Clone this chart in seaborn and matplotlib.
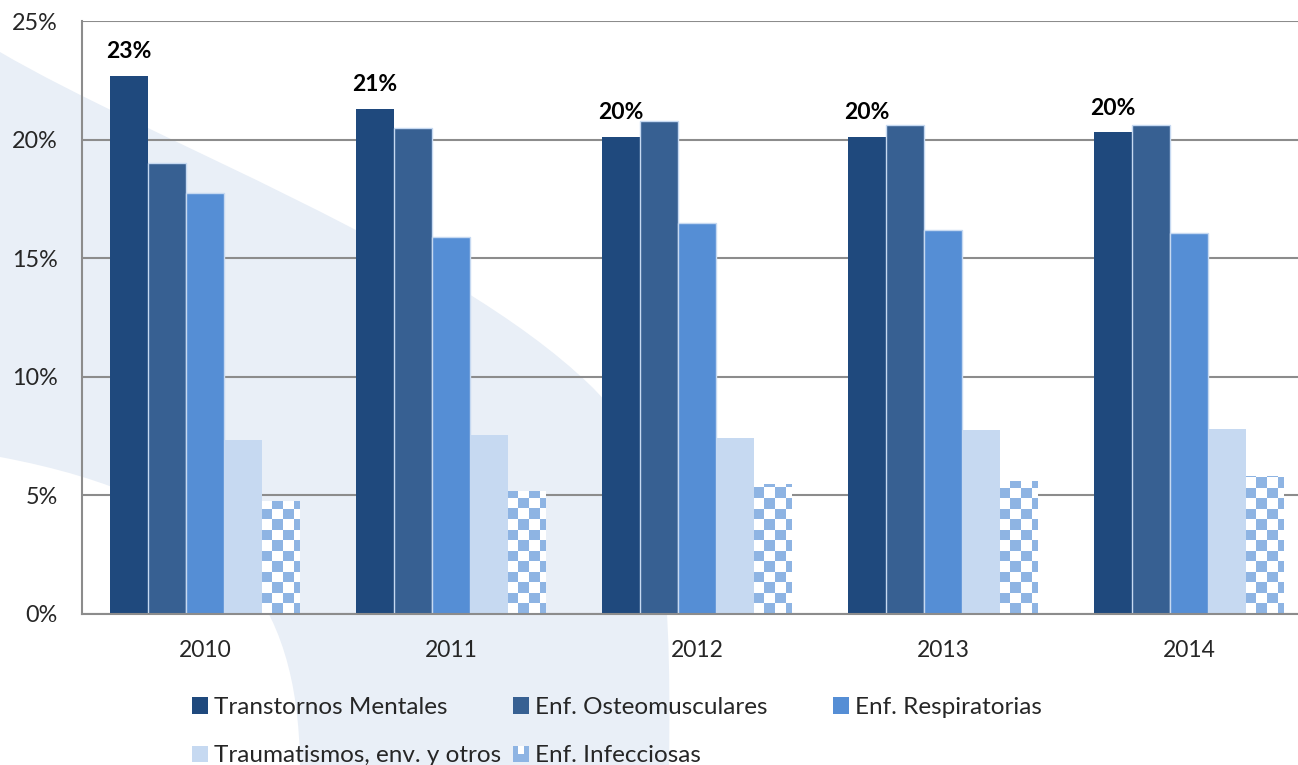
import pandas as pd
import matplotlib
matplotlib.use("Agg")
import matplotlib.pyplot as plt
import seaborn as sns
import numpy as np
from matplotlib.colors import ListedColormap
from matplotlib.patches import PathPatch, Patch, Rectangle
from matplotlib.path import Path
from matplotlib.legend_handler import HandlerBase
from matplotlib.ticker import PercentFormatter, FixedLocator

# Datos (% por año)
anios = ["2010", "2011", "2012", "2013", "2014"]
series = ["Transtornos Mentales", "Enf. Osteomusculares", "Enf. Respiratorias",
          "Traumatismos, env. y otros", "Enf. Infecciosas"]
transtornos = [22.7, 21.3, 20.1, 20.1, 20.3]
osteomusculares = [19.0, 20.5, 20.8, 20.6, 20.6]
respiratorias = [17.75, 15.9, 16.5, 16.2, 16.05]
traumatismos = [7.35, 7.55, 7.4, 7.75, 7.8]
infecciosas = [4.75, 5.2, 5.5, 5.6, 5.8]

colores = ["#1F497D", "#376092", "#558ED5", "#C6D9F1", "#8EB4E3"]
gris = "#8C8C8C"

valores = [transtornos, osteomusculares, respiratorias, traumatismos, infecciosas]
df = pd.DataFrame({
    "Año": anios * len(series),
    "Serie": [s for s in series for _ in anios],
    "Valor": [v for vals in valores for v in vals],
})

sns.set_style("white")
plt.rcParams["font.family"] = ["Lato", "DejaVu Sans"]

W, H = 1298, 765
fig = plt.figure(figsize=(W / 100, H / 100), dpi=100)
fig.patch.set_facecolor("white")

# Fondo decorativo (franja azul clara), en pixeles
pts = [(0, 52), (150, 140), (450, 250), (590, 385),
       (660, 452), (672, 560), (669, 765),
       (300, 765),
       (298, 600), (230, 500), (0, 457),
       (0, 52)]
codigos = [Path.MOVETO, Path.CURVE4, Path.CURVE4, Path.CURVE4,
           Path.CURVE4, Path.CURVE4, Path.CURVE4,
           Path.LINETO,
           Path.CURVE4, Path.CURVE4, Path.CURVE4,
           Path.CLOSEPOLY]
camino = Path([(x / W, 1 - y / H) for x, y in pts], codigos)
franja = PathPatch(camino, transform=fig.transFigure, facecolor="#E9EFF7",
                   edgecolor="none", zorder=-5)
fig.add_artist(franja)

ax = fig.add_axes([82 / W, 1 - 614 / H, 1230 / W, 593 / H])
ax.set_facecolor("none")

sns.barplot(data=df, x="Año", y="Valor", hue="Serie", hue_order=series, order=anios,
            palette=colores, width=0.772, gap=0, saturation=1, errorbar=None,
            legend=False, ax=ax)

# bordes claros en algunas series
for i, cont in enumerate(ax.containers):
    for p in cont:
        if i in (1, 2):
            p.set_edgecolor("#C6D9F1")
            p.set_linewidth(1.0)
        else:
            p.set_edgecolor("none")

# patrón de cuadros para Enf. Infecciosas
celda_x, celda_y = 0.0427, 0.443
cmap_cuadros = ListedColormap(["white", colores[4]])
for p in ax.containers[4]:
    x0, w, h = p.get_x(), p.get_width(), p.get_height()
    nc = int(np.ceil(w / celda_x))
    nr = int(np.ceil(h / celda_y))
    tablero = (np.add.outer(np.arange(nr), np.arange(nc)) % 2)
    im = ax.imshow(tablero, cmap=cmap_cuadros, interpolation="nearest", aspect="auto",
                   extent=[x0, x0 + nc * celda_x, 0, nr * celda_y], origin="lower",
                   zorder=p.get_zorder() + 0.1)
    im.set_clip_path(p)

# etiquetas sobre Transtornos Mentales
for p, v in zip(ax.containers[0], transtornos):
    ax.annotate(f"{round(v)}%", (p.get_x() + p.get_width() / 2, p.get_height()),
                xytext=(0, 17.5), textcoords="offset points", ha="center", va="center",
                fontsize=16.5, fontweight="bold", color="black")

ax.set_xlim(-0.5, 4.5)
ax.set_ylim(0, 25)
ax.set_yticks([0, 5, 10, 15, 20, 25])
ax.yaxis.set_major_formatter(PercentFormatter(xmax=100, decimals=0))
ax.grid(axis="y", color=gris, linewidth=1.5)
ax.set_axisbelow(True)

ax.xaxis.set_minor_locator(FixedLocator([-0.5, 0.5, 1.5, 2.5, 3.5, 4.5]))
ax.tick_params(axis="x", which="major", length=0, pad=19, labelsize=16.5)
ax.tick_params(axis="x", which="minor", length=6.5, width=1.4, color=gris, direction="out")
ax.tick_params(axis="y", length=6.5, width=1.4, color=gris, direction="out", pad=11, labelsize=16.8)
ax.set_xlabel("")
ax.set_ylabel("")

for lado in ["top", "right"]:
    ax.spines[lado].set_visible(False)
for lado in ["left", "bottom"]:
    ax.spines[lado].set_color(gris)
    ax.spines[lado].set_linewidth(1.5)


class ManejadorCuadros(HandlerBase):
    def create_artists(self, legend, orig_handle, xdescent, ydescent, width, height, fontsize, trans):
        fondo = Rectangle((-xdescent, -ydescent), width, height, facecolor=colores[4],
                          edgecolor="none", transform=trans)
        blanco = Rectangle((-xdescent + width * 0.3, -ydescent + height * 0.5), width * 0.4,
                           height * 0.5, facecolor="white", edgecolor="none", transform=trans)
        return [fondo, blanco]


asas = [Patch(facecolor=c, edgecolor="none") for c in colores]
columnas = [([0, 3], 192), ([1, 4], 513), ([2], 833)]
for idx, xpix in columnas:
    fig.legend([asas[i] for i in idx], [series[i] for i in idx],
               loc="upper left", bbox_to_anchor=(xpix / W, 1 - 697 / H),
               frameon=False, borderpad=0, borderaxespad=0, fontsize=17.5,
               handlelength=0.66, handleheight=0.66, handletextpad=0.25,
               labelspacing=1.12, handler_map={asas[4]: ManejadorCuadros()})

fig.savefig("out.png", dpi=100)
